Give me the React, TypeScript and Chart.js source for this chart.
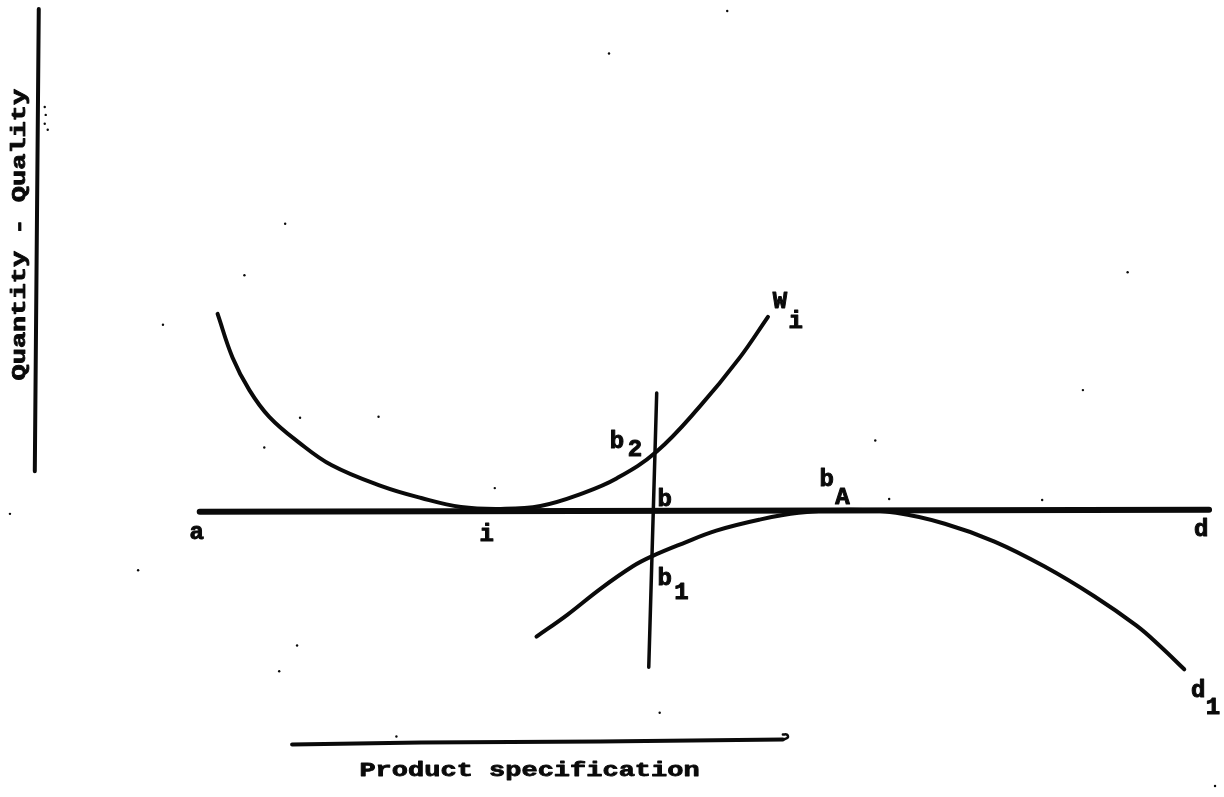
import React, { useEffect, useRef } from "react";
import { Chart, registerables } from "chart.js";

Chart.register(...registerables);

type Pt = [number, number];

const indifferenceW: Pt[] = [
  [215, 313], [230, 357], [247, 390], [267, 417], [297, 443], [330, 466], [380, 487],
  [420, 499], [460, 508], [500, 510], [540, 507], [583, 494], [617, 479], [657, 452],
  [700, 407], [740, 358], [769, 316],
];
const demandD1: Pt[] = [
  [536, 639], [567, 617], [600, 591], [633, 568], [652, 558], [683, 545], [717, 532],
  [760, 521], [800, 514], [852, 511], [898, 514], [947, 525], [997, 543], [1047, 568],
  [1097, 598], [1140, 628], [1163, 648], [1188, 672],
];
const lineB: Pt[] = [[657, 393], [649, 670]];
const lineAD: Pt[] = [[197, 513], [1213, 511]];
const valueAxis: Pt[] = [[35, 5], [31, 472]];
const specRule: Pt[] = [[290, 748], [420, 746], [600, 745], [784, 743]];
const specHook: Pt[] = [[784, 743], [789, 741], [788, 738], [784, 738]];
const specks: Pt[] = [
  [728, 7], [609, 50], [283, 222], [242, 274], [160, 324], [1131, 271], [1086, 390],
  [877, 441], [298, 418], [377, 417], [262, 448], [494, 489], [891, 500], [1045, 501],
  [6, 515], [135, 572], [295, 648], [277, 674], [660, 716], [395, 740], [1219, 790],
  [41, 104], [42, 112], [41, 121], [44, 127],
];

// point labels (text, x centre, baseline)
const labelText = ["a", "i", "b", "b", "2", "b", "1", "b", "A", "d", "d", "1", "W", "i"];
const labelX = [194, 486, 665, 617, 635, 665, 682, 828, 844, 1205, 1202, 1217, 781, 797];
const labelY = [540, 542, 507, 448, 457, 587, 601, 487, 505, 537, 700, 717, 307, 327];

// axis titles
const xTitle = "Product specification";
const xTitleAt: Pt = [529, 780];
const yTitle = "Quantity - Quality";
const yTitleAt: Pt = [21, 233];

const INK = "#0a0a0a";
const LABEL_FONT = "bold 24px 'Liberation Mono', 'DejaVu Sans Mono', monospace";
const TITLE_FONT = "bold 20px 'Liberation Mono', 'DejaVu Sans Mono', monospace";
const TITLE_STRETCH = 1.35;

const toXY = (pts: Pt[]) => pts.map(([x, y]) => ({ x, y }));

function heavyText(ctx: CanvasRenderingContext2D, t: string, x: number, y: number, w: number) {
  ctx.fillText(t, x, y);
  ctx.lineWidth = w;
  ctx.strokeText(t, x, y);
}

const annotate = {
  id: "annotate",
  afterDatasetsDraw(chart: any) {
    const { ctx } = chart;
    const sx = chart.scales.x;
    const sy = chart.scales.y;
    ctx.save();
    ctx.fillStyle = INK;
    ctx.strokeStyle = INK;
    ctx.lineJoin = "round";
    ctx.font = LABEL_FONT;
    ctx.textAlign = "center";
    ctx.textBaseline = "alphabetic";
    labelText.forEach((t, i) => {
      heavyText(ctx, t, sx.getPixelForValue(labelX[i]), sy.getPixelForValue(labelY[i]), 1);
    });

    ctx.font = TITLE_FONT;
    // x title
    ctx.save();
    ctx.translate(sx.getPixelForValue(xTitleAt[0]), sy.getPixelForValue(xTitleAt[1]));
    ctx.scale(TITLE_STRETCH, 1);
    heavyText(ctx, xTitle, 0, 0, 0.8);
    ctx.restore();
    // y title
    ctx.save();
    ctx.translate(sx.getPixelForValue(yTitleAt[0]), sy.getPixelForValue(yTitleAt[1]));
    ctx.rotate(-Math.PI / 2);
    ctx.scale(TITLE_STRETCH, 1);
    heavyText(ctx, yTitle, 0, 0, 0.8);
    ctx.restore();

    ctx.restore();
  },
};

function lineSet(pts: Pt[], width: number, tension: number) {
  return {
    data: toXY(pts),
    showLine: true,
    borderColor: INK,
    backgroundColor: INK,
    borderWidth: width,
    borderCapStyle: "round" as const,
    borderJoinStyle: "round" as const,
    pointRadius: 0,
    pointHoverRadius: 0,
    tension,
    clip: false as any,
  };
}

export default function App() {
  const ref = useRef<HTMLCanvasElement | null>(null);

  useEffect(() => {
    if (!ref.current) return;
    const chart = new Chart(ref.current, {
      type: "scatter",
      data: {
        datasets: [
          lineSet(lineAD, 6, 0),
          lineSet(indifferenceW, 4, 0.4),
          lineSet(demandD1, 4, 0.4),
          lineSet(lineB, 3.5, 0),
          lineSet(valueAxis, 4, 0),
          lineSet(specRule, 4, 0),
          lineSet(specHook, 2.5, 0.4),
          {
            data: toXY(specks),
            showLine: false,
            pointRadius: 1.2,
            pointBorderWidth: 0,
            backgroundColor: INK,
            borderColor: INK,
            clip: false as any,
          },
        ] as any,
      },
      options: {
        animation: false,
        responsive: false,
        events: [],
        layout: { padding: 0 },
        plugins: { legend: { display: false }, tooltip: { enabled: false } },
        scales: {
          x: { type: "linear", min: 0, max: 1224, display: false },
          y: { type: "linear", min: 0, max: 797, reverse: true, display: false },
        },
      },
      plugins: [annotate],
    });
    return () => chart.destroy();
  }, []);

  return (
    <div style={{ position: "absolute", left: 0, top: 0, width: 1224, height: 797, background: "#fff" }}>
      <canvas ref={ref} width={1224} height={797} style={{ display: "block" }} />
    </div>
  );
}
